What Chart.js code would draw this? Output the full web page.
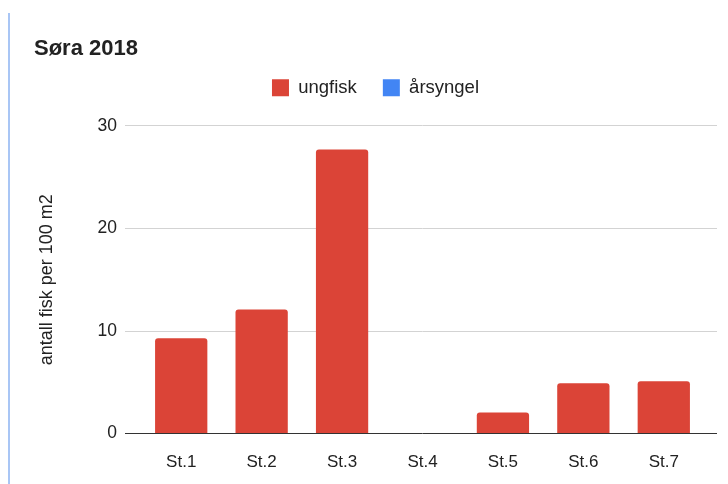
<!DOCTYPE html>
<html>
<head>
<meta charset="utf-8">
<script src="https://cdn.jsdelivr.net/npm/chart.js@4/dist/chart.umd.min.js"></script>
<style>
    html, body { margin: 0; padding: 0; background: #fff; }
    #wrap { position: relative; width: 728px; height: 484px; }
    #edge { position: absolute; left: 8px; top: 13px; bottom: 0; width: 2px; background: #a9c6f5; }
    canvas { position: absolute; left: 0; top: 0; }
</style>
</head>
<body>
<div id="wrap">
    <div id="edge"></div>
    <canvas id="chart" width="728" height="484"></canvas>
</div>
<script>
    var stations = ['St.1', 'St.2', 'St.3', 'St.4', 'St.5', 'St.6', 'St.7'];
    var ungfisk = [9.3, 12.1, 27.7, 0, 2.05, 4.9, 5.1];
    var arsyngel = [0, 0, 0, 0, 0, 0, 0];
    var yTicks = [0, 10, 20, 30];

    var textColor = '#222';
    var font = 'Arial, "Liberation Sans", sans-serif';

    function gridColor(ctx) {
        return ctx.tick && ctx.tick.value === 0 ? '#333' : '#d3d3d3';
    }

    // extra room under the legend so the plot starts lower
    var legendGap = {
        id: 'legendGap',
        beforeInit: function (chart) {
            var fit = chart.legend.fit;
            chart.legend.fit = function () {
                fit.bind(chart.legend)();
                this.height += 19;
            };
        }
    };

    new Chart(document.getElementById('chart').getContext('2d'), {
        type: 'bar',
        data: {
            labels: stations,
            datasets: [{
                label: 'ungfisk',
                data: ungfisk,
                backgroundColor: '#db4437',
                borderRadius: { topLeft: 3, topRight: 3 },
                borderSkipped: 'start',
                barPercentage: 0.65,
                categoryPercentage: 1
            }, {
                label: 'årsyngel',
                data: arsyngel,
                backgroundColor: '#4285f4',
                barPercentage: 0.65,
                categoryPercentage: 1
            }]
        },
        options: {
            responsive: false,
            animation: false,
            grouped: false,
            layout: { padding: { left: 34, right: 11, top: 0, bottom: 0 } },
            plugins: {
                title: {
                    display: true,
                    text: 'Søra 2018',
                    align: 'start',
                    color: textColor,
                    font: { family: font, size: 22, weight: 'bold', lineHeight: 1.2 },
                    padding: { top: 36, bottom: -10 }
                },
                legend: {
                    position: 'top',
                    labels: {
                        color: textColor,
                        font: { family: font, size: 18.5 },
                        boxWidth: 17,
                        boxHeight: 17,
                        padding: 26
                    }
                },
                tooltip: { enabled: false }
            },
            scales: {
                x: {
                    grid: { display: false },
                    border: { display: false },
                    ticks: { color: textColor, font: { family: font, size: 17 }, padding: 11 }
                },
                y: {
                    min: 0,
                    max: 30,
                    afterBuildTicks: function (scale) {
                        scale.ticks = yTicks.map(function (v) { return { value: v }; });
                    },
                    afterFit: function (scale) { scale.width = 107; },
                    border: { display: false },
                    grid: { color: gridColor, tickLength: 16, lineWidth: 1 },
                    ticks: { color: textColor, font: { family: font, size: 17.5 }, padding: 8 },
                    title: {
                        display: true,
                        text: 'antall fisk per 100 m2',
                        color: textColor,
                        font: { family: font, size: 18 },
                        padding: { top: 2, bottom: 0 }
                    }
                },
                y2: {
                    position: 'right',
                    min: 0,
                    max: 30,
                    afterBuildTicks: function (scale) {
                        scale.ticks = yTicks.map(function (v) { return { value: v }; });
                    },
                    border: { display: false },
                    grid: { color: gridColor, tickLength: 13, drawOnChartArea: false },
                    ticks: { display: false }
                }
            }
        },
        plugins: [legendGap]
    });
</script>
</body>
</html>
